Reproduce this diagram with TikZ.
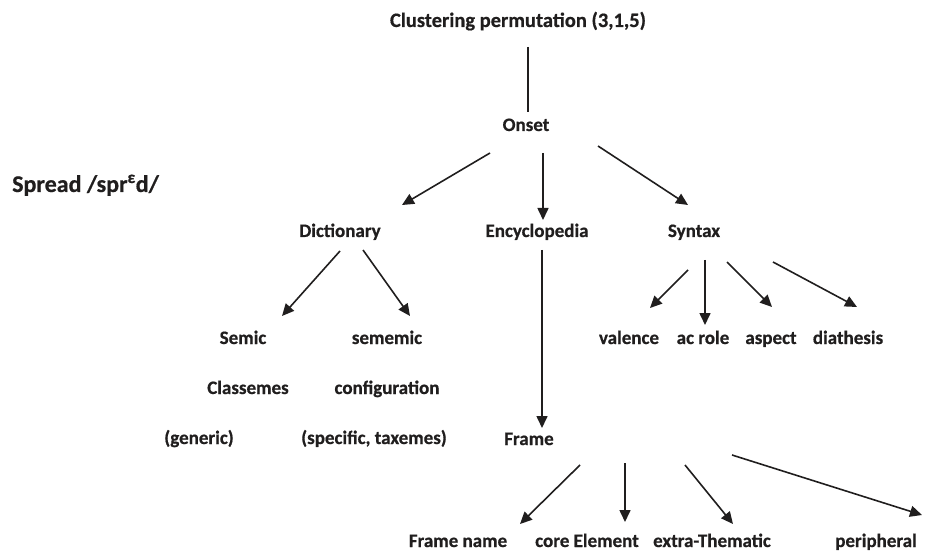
\documentclass[tikz,border=0pt]{standalone}
\usepackage{fontspec}
\setmainfont{Carlito}[BoldFeatures={FakeBold=0.6}]
\usetikzlibrary{arrows.meta,calc}
\definecolor{ink}{RGB}{32,30,30}
\tikzset{
  lbl/.style={font=\bfseries\fontsize{19}{23}\selectfont, text=ink, inner sep=0pt, text height=14pt, text depth=4pt},
  arr/.style={draw=ink, line width=1.6pt, -{Triangle[length=12pt,width=11pt]}},
  plain/.style={draw=ink, line width=1.6pt}
}
\begin{document}
\begin{tikzpicture}[x=1pt,y=-1pt]
\useasboundingbox (0,0) rectangle (926,553);
\node[lbl,font=\bfseries\fontsize{20.5}{24}\selectfont] (clust) at (518,22) {Clustering permutation (3,1,5)};
\node[lbl] (onset) at (526,126) {Onset};
\node[lbl,font=\bfseries\fontsize{24}{28}\selectfont,anchor=west,text height=17pt,text depth=5pt] (spread) at (12,186) {Spread /spr\textsuperscript{ε}d/};
\node[lbl] (dict) at (340,232) {Dictionary};
\node[lbl] (ency) at (537,232) {Encyclopedia};
\node[lbl] (syntax) at (694,232) {Syntax};
\node[lbl] (semic) at (243,339) {Semic};
\node[lbl] (sememic) at (387,339) {sememic};
\node[lbl] (classemes) at (248,389) {Classemes};
\node[lbl] (config) at (387,389) {configuration};
\node[lbl] (generic) at (199,439) {(generic)};
\node[lbl] (specific) at (374,439) {(specific, taxemes)};
\node[lbl] (valence) at (629,339) {valence};
\node[lbl] (acrole) at (703,339) {ac role};
\node[lbl] (aspect) at (771,339) {aspect};
\node[lbl] (diath) at (848,339) {diathesis};
\node[lbl] (frame) at (529,440) {Frame};
\node[lbl] (fname) at (458,542) {Frame name};
\node[lbl] (core) at (587,542) {core Element};
\node[lbl] (extra) at (712,542) {extra-Thematic};
\node[lbl] (periph) at (876,542) {peripheral};

\draw[plain] ($(clust)+(10,25)$) -- ($(onset)+(2,-14)$);
\draw[arr] ($(onset)+(-36,27)$) -- ($(dict)+(62,-27)$);
\draw[arr] ($(onset)+(17,27)$) -- ($(ency)+(6,-12)$);
\draw[arr] ($(onset)+(72,20)$) -- ($(syntax)+(-6,-27)$);
\draw[arr] ($(dict)+(0,19)$) -- ($(semic)+(39,-23)$);
\draw[arr] ($(dict)+(23,18)$) -- ($(sememic)+(23,-23)$);
\draw[arr] ($(ency)+(5,18)$) -- ($(frame)+(13,-12)$);
\draw[arr] ($(syntax)+(-6,38)$) -- ($(valence)+(21,-31)$);
\draw[arr] ($(syntax)+(11,28)$) -- ($(acrole)+(2,-14)$);
\draw[arr] ($(syntax)+(33,30)$) -- ($(aspect)+(1,-32)$);
\draw[arr] ($(syntax)+(79,30)$) -- ($(diath)+(9,-32)$);
\draw[arr] ($(frame)+(51,25)$) -- ($(fname)+(62,-18)$);
\draw[arr] ($(frame)+(96,23)$) -- ($(core)+(38,-20)$);
\draw[arr] ($(frame)+(156,25)$) -- ($(extra)+(21,-18)$);
\draw[arr] ($(frame)+(203,15)$) -- ($(periph)+(46,-27)$);
\end{tikzpicture}
\end{document}
